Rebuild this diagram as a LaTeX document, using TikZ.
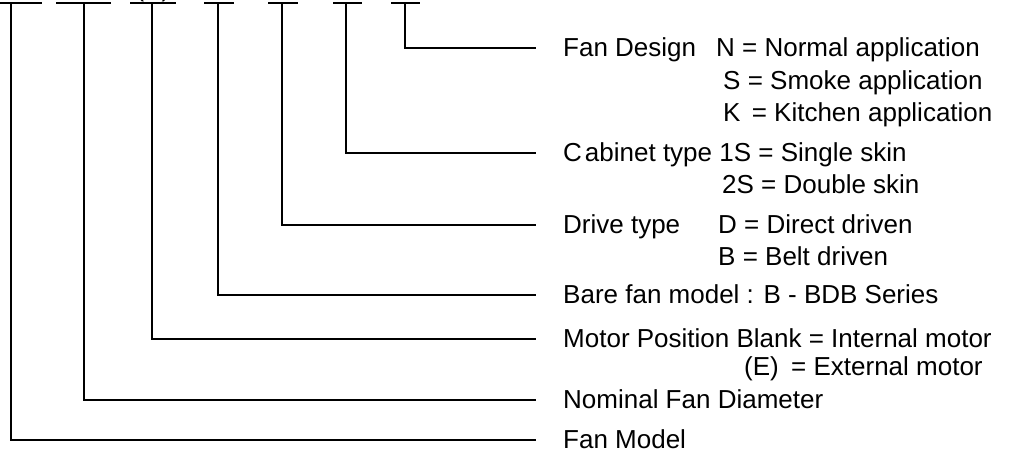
\documentclass[tikz,border=0pt]{standalone}
\usepackage{fontspec}
\setmainfont{Liberation Sans}
\usetikzlibrary{positioning}

\begin{document}
\begin{tikzpicture}[
      x=1pt, y=-1pt,
      lbl/.style={anchor=west, inner sep=0pt, font=\fontsize{26}{30}\selectfont, text height=19pt, text depth=3pt},
      seg/.style={line width=1.6pt},
      lead/.style={line width=1.6pt, shorten >=27pt}]
    \useasboundingbox (0,0) rectangle (1015,453);
    % code segments along the top edge
    \coordinate (m1) at (11,3);
    \coordinate (m2) at (84,3);
    \coordinate (m3) at (152,3);
    \coordinate (m4) at (218,3);
    \coordinate (m5) at (282,3);
    \coordinate (m6) at (346,3);
    \coordinate (m7) at (405,3);
    \draw[seg] (-2,3) -- (42,3);
    \draw[seg] (56,3) -- (111,3);
    \draw[seg] (130,3) -- (176,3);
    \draw[seg] (204,3) -- (234,3);
    \draw[seg] (268,3) -- (298,3);
    \draw[seg] (333,3) -- (362,3);
    \draw[seg] (391,3) -- (420,3);
    \node[lbl, anchor=base] (codeE) at (153,-3.5) {(E)};
    % descriptions
    \node[lbl] (design) at (563,48) {Fan Design};
    \node[lbl] (normal) at (716,48) {N = Normal application};
    \node[lbl] (smoke) at (723,81) {S = Smoke application};
    \node[lbl] (kitchen) at (723,113) {K\kern4pt{} = Kitchen application};
    \node[lbl] (cabinet) at (563,153) {C\kern3pt abinet type 1S = Single skin};
    \node[lbl] (double) at (722,185) {2S = Double skin};
    \node[lbl] (drive) at (563,225) {Drive type};
    \node[lbl] (direct) at (718,225) {D = Direct driven};
    \node[lbl] (belt) at (718,257) {B = Belt driven};
    \node[lbl] (bare) at (563,295) {Bare fan model : B - BDB Series};
    \node[lbl] (motor) at (563,339) {Motor Position Blank = Internal motor};
    \node[lbl] (ext) at (744,367) {(E)};
    \node[lbl] (extmotor) at (791,367) {= External motor};
    \node[lbl] (nominal) at (563,400) {Nominal Fan Diameter};
    \node[lbl] (model) at (563,440) {Fan Model};
    % leaders
    \draw[lead] (m7) |- (design);
    \draw[lead] (m6) |- (cabinet);
    \draw[lead] (m5) |- (drive);
    \draw[lead] (m4) |- (bare);
    \draw[lead] (m3) |- (motor);
    \draw[lead] (m2) |- (nominal);
    \draw[lead] (m1) |- (model);
  \end{tikzpicture}
\end{document}
